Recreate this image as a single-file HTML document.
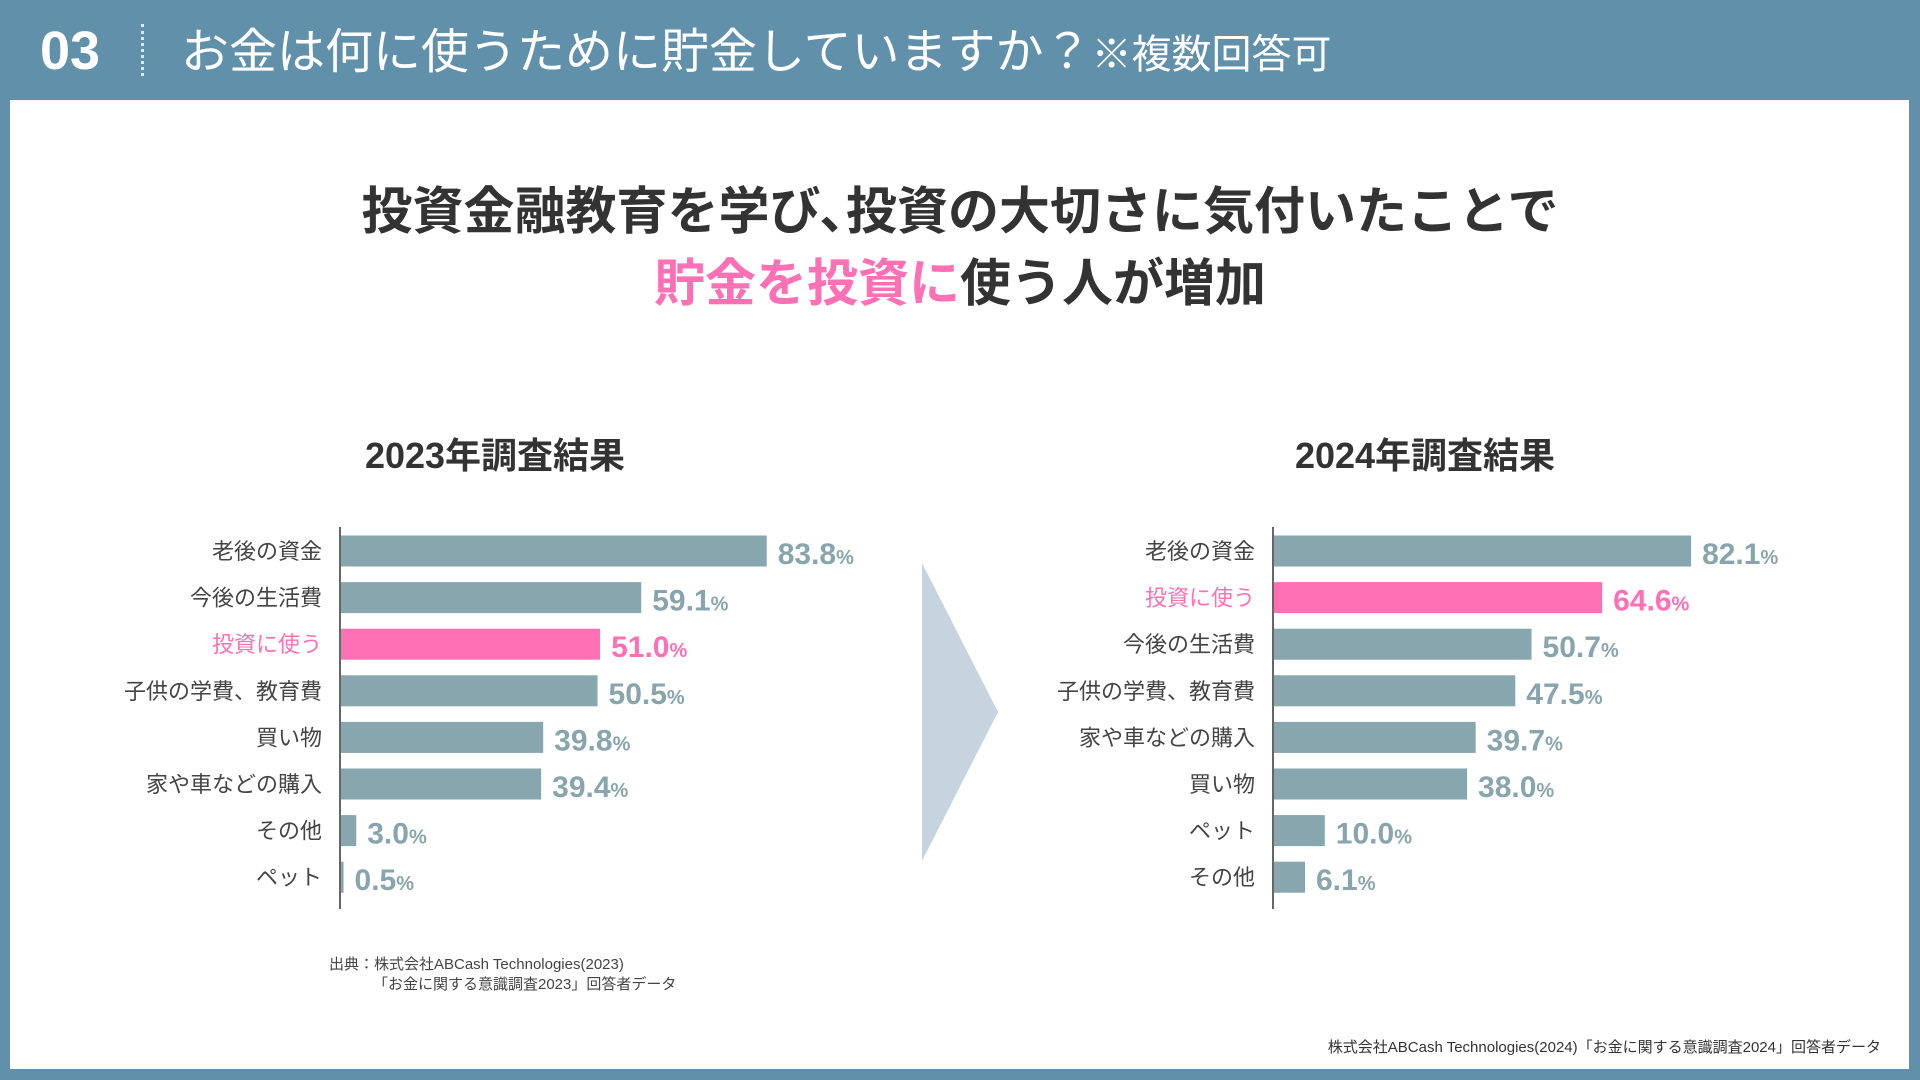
<!DOCTYPE html>
<html><head><meta charset="utf-8"><style>
body{margin:0;width:1920px;height:1080px;background:#6190ab;overflow:hidden;font-family:"Liberation Sans","Noto Sans CJK JP",sans-serif;}
#panel{position:absolute;left:10px;top:100px;width:1899px;height:969px;background:#fff;}
.t{position:absolute;white-space:nowrap;}
</style></head><body>
<div class="t" style="left:40px;top:20px;font-size:54px;font-weight:bold;color:#fff;">03</div>
<div style="position:absolute;left:141px;top:24px;height:52px;border-left:3px dotted #dfe8ee;"></div>
<div class="t" style="left:181px;top:12px;font-size:48px;color:#fff;">お金は何に使うために貯金していますか？<span style="font-size:40px;">※複数回答可</span></div>
<div id="panel"></div>
<div class="t" style="left:0;width:1920px;text-align:center;top:176px;font-size:51px;font-weight:bold;color:#333;line-height:72px;">投資金融教育を学び､投資の大切さに気付いたことで<br><span style="color:#ff70b5">貯金を投資に</span>使う人が増加</div>
<svg id="chart" width="1920" height="1080" style="position:absolute;left:0;top:0">
<polygon points="922,563 998,712 922,861" fill="#c5d4de"/>
</svg>
<div class="t" style="left:329px;top:955px;font-size:15px;color:#444;line-height:20px;">出典：株式会社ABCash Technologies(2023)<br><span style="padding-left:44px">「お金に関する意識調査2023」回答者データ</span></div>
<div class="t" style="right:39px;top:1036px;font-size:15px;color:#333;">株式会社ABCash Technologies(2024)「お金に関する意識調査2024」回答者データ</div>
<script>
const cats2023=["老後の資金","今後の生活費","投資に使う","子供の学費、教育費","買い物","家や車などの購入","その他","ペット"];
const vals2023=[83.8,59.1,51.0,50.5,39.8,39.4,3.0,0.5];
const cats2024=["老後の資金","投資に使う","今後の生活費","子供の学費、教育費","家や車などの購入","買い物","ペット","その他"];
const vals2024=[82.1,64.6,50.7,47.5,39.7,38.0,10.0,6.1];
const highlight="投資に使う";
const NS="http://www.w3.org/2000/svg";
const svg=document.getElementById('chart');
function mk(tag,attrs){const e=document.createElementNS(NS,tag);for(const k in attrs)e.setAttribute(k,attrs[k]);svg.appendChild(e);return e;}
function drawChart(title,cats,vals,axisX,titleX,key){
  const top=551,step=46.6,scale=5.08,bh=31;
  const xs=v=>v*scale, ys=i=>top+i*step;
  const tt=mk('text',{x:titleX,y:468,'text-anchor':'middle','font-size':36,fill:'#333','font-weight':'bold'});
  
  
  tt.textContent=title;
  const ax=mk('line',{x1:axisX,x2:axisX,y1:527,y2:909,stroke:'#333','stroke-width':1.5});
  
  
  cats.forEach((c,i)=>{
    const hl=c===highlight, col=hl?'#ff70b5':'#87a6ae';
    const y=ys(i);
    const r=mk('rect',{x:axisX+1,y:y-bh/2,width:Math.max(xs(vals[i]),2),height:bh,fill:col});
    
    
    const l=mk('text',{x:axisX-18,y:y+8,'text-anchor':'end','font-size':22,fill:hl?'#ff70b5':'#444'});
    
    
    l.textContent=c;
    const v=mk('text',{x:axisX+xs(vals[i])+12,y:y+13,'font-size':30,fill:hl?'#ff70b5':'#88a5ae','font-weight':'bold'});
    
    
    v.textContent=vals[i].toFixed(1);
    const p=document.createElementNS(NS,'tspan');p.setAttribute('font-size',20);p.textContent='%';v.appendChild(p);
  });
}
drawChart("2023年調査結果",cats2023,vals2023,340,495,'y2023');
drawChart("2024年調査結果",cats2024,vals2024,1273,1425,'y2024');
</script>
</body></html>
